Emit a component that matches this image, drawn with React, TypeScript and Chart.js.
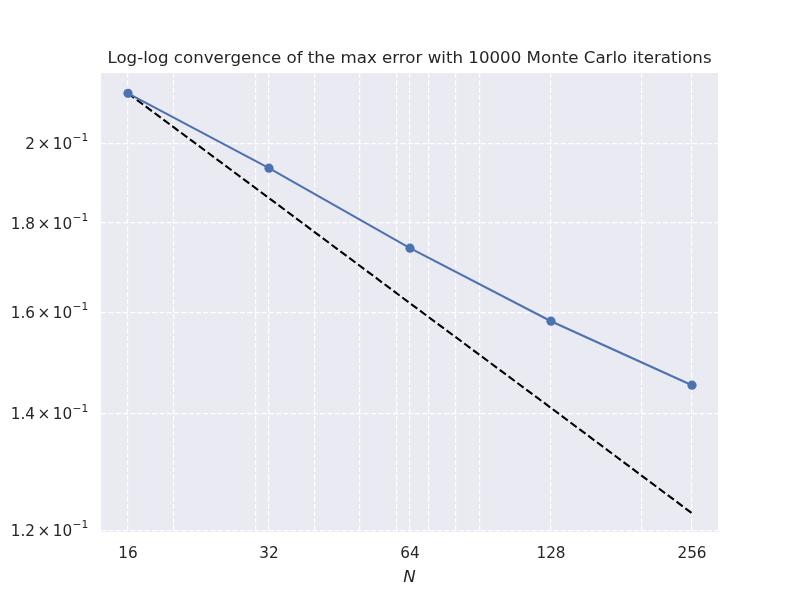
import React, { useEffect, useRef } from "react";
import { Chart, registerables } from "chart.js";

Chart.register(...registerables);

const titleText = "Log-log convergence of the max error with 10000 Monte Carlo iterations";
const xAxisTitle = "N";
const nValues = [16, 32, 64, 128, 256];
const maxError = [0.2136, 0.1935, 0.1741, 0.1581, 0.1453];
const referenceSlope = [0.2136, 0.186, 0.1619, 0.141, 0.1227];
const xMajorTicks = [16, 32, 64, 128, 256];
const xMinorTicks = [20, 30, 40, 50, 60, 70, 80, 90, 200];
const yTickValues = [0.12, 0.14, 0.16, 0.18, 0.2];
const yTickMantissas = ["1.2", "1.4", "1.6", "1.8", "2"];
const yTickExponent = "\u22121";

const FONT = "'DejaVu Sans', sans-serif";
const TEXT = "#262626";

const bgPlugin = {
  id: "axesBg",
  beforeDraw(chart: any) {
    const { ctx, chartArea } = chart;
    ctx.save();
    ctx.fillStyle = "#EAEAF2";
    ctx.fillRect(chartArea.left, chartArea.top, chartArea.right - chartArea.left, chartArea.bottom - chartArea.top);
    ctx.restore();
  },
};

const textPlugin = {
  id: "texts",
  afterDraw(chart: any) {
    const { ctx, chartArea } = chart;
    const cx = (chartArea.left + chartArea.right) / 2;
    ctx.save();
    ctx.fillStyle = TEXT;
    ctx.textBaseline = "alphabetic";
    // title
    ctx.font = `normal 16.67px ${FONT}`;
    ctx.textAlign = "center";
    ctx.fillText(titleText, cx, chartArea.top - 9.8);
    // x axis title
    ctx.font = `italic 16.67px ${FONT}`;
    ctx.fillText(xAxisTitle, cx, chartArea.bottom + 49.5);
    // y tick labels with superscript exponent
    const yScale = chart.scales.y;
    const mainSize = 15.28;
    const supSize = 10.7;
    const right = chartArea.left - 12.7;
    ctx.textAlign = "left";
    yTickValues.forEach((v, i) => {
      const py = yScale.getPixelForValue(v);
      const baseline = py + 5.8;
      ctx.font = `normal ${mainSize}px ${FONT}`;
      const m = yTickMantissas[i];
      const wM = ctx.measureText(m).width;
      const wX = ctx.measureText("×").width;
      const w10 = ctx.measureText("10").width;
      const gap = 2.5;
      ctx.font = `normal ${supSize}px ${FONT}`;
      const wE = ctx.measureText(yTickExponent).width;
      const total = wM + gap + wX + gap + w10 + 0.3 + wE;
      let x = right - total;
      ctx.font = `normal ${mainSize}px ${FONT}`;
      ctx.fillText(m, x, baseline);
      x += wM + gap;
      ctx.fillText("×", x, baseline);
      x += wX + gap;
      ctx.fillText("10", x, baseline);
      x += w10 + 0.3;
      ctx.font = `normal ${supSize}px ${FONT}`;
      ctx.fillText(yTickExponent, x, baseline - 7.6);
    });
    ctx.restore();
  },
};

export default function App() {
  const ref = useRef<HTMLCanvasElement | null>(null);
  useEffect(() => {
    if (!ref.current) return;
    const chart = new Chart(ref.current, {
      type: "line",
      data: {
        datasets: [
          {
            label: "max error",
            data: nValues.map((n, i) => ({ x: n, y: maxError[i] })),
            borderColor: "#4C72B0",
            backgroundColor: "#4C72B0",
            borderWidth: 2.08,
            pointRadius: 4.6,
            pointBorderWidth: 0,
            pointBackgroundColor: "#4C72B0",
            tension: 0,
          },
          {
            label: "reference",
            data: nValues.map((n, i) => ({ x: n, y: referenceSlope[i] })),
            borderColor: "#000000",
            borderWidth: 2.08,
            borderDash: [7.7, 3.33],
            pointRadius: 0,
            tension: 0,
          },
        ],
      },
      options: {
        animation: false,
        responsive: false,
        devicePixelRatio: 1,
        layout: { padding: { left: 0, right: 82, top: 73, bottom: 0 } },
        plugins: {
          legend: { display: false },
          tooltip: { enabled: false },
          title: { display: false },
        },
        scales: {
          x: {
            type: "logarithmic",
            min: 14.01,
            max: 290.9,
            afterBuildTicks(scale: any) {
              scale.ticks = [...xMajorTicks, ...xMinorTicks]
                .sort((a, b) => a - b)
                .map((v) => ({ value: v, major: xMajorTicks.includes(v) }));
            },
            afterFit(scale: any) {
              scale.height = 68;
            },
            ticks: {
              autoSkip: false,
              maxRotation: 0,
              padding: 13,
              color: TEXT,
              font: { family: FONT, size: 15.28 },
              callback(value: any) {
                return xMajorTicks.includes(Number(value)) ? String(value) : "";
              },
            },
            grid: { color: "#ffffff", lineWidth: 1.2, drawTicks: false },
            border: { display: false, dash: [5.1, 2.2] },
            title: { display: false },
          },
          y: {
            type: "logarithmic",
            min: 0.1197,
            max: 0.2194,
            afterBuildTicks(scale: any) {
              scale.ticks = yTickValues.map((v) => ({ value: v }));
            },
            afterFit(scale: any) {
              scale.width = 101;
            },
            ticks: { display: false },
            grid: { color: "#ffffff", lineWidth: 1.2, drawTicks: false },
            border: { display: false, dash: [5.1, 2.2] },
          },
        },
      },
      plugins: [bgPlugin, textPlugin],
    } as any);
    return () => chart.destroy();
  }, []);
  return (
    <div style={{ position: "absolute", left: 0, top: 0, width: 800, height: 600 }}>
      <canvas ref={ref} width={800} height={600} style={{ width: 800, height: 600 }} />
    </div>
  );
}
